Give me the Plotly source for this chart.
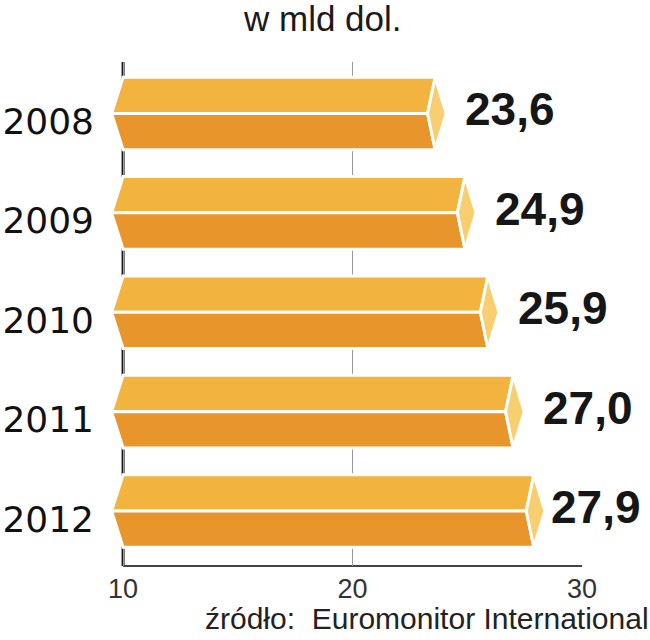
import plotly.graph_objects as go

years = ["2008", "2009", "2010", "2011", "2012"]
values = [23.6, 24.9, 25.9, 27.0, 27.9]
value_labels = ["23,6", "24,9", "25,9", "27,0", "27,9"]
x_ticks = [10, 20, 30]
title_text = "w mld dol."
source_text = "źródło:  Euromonitor International"

BASE = 10
H = 0.365      # half bar height (y units)
P = 0.5        # left point depth (x units)
C1 = 0.33      # cap inner offset
C2 = 0.48      # cap outer tip

TOP_COL = "#F2B33F"
BOT_COL = "#E8962B"
CAP_COL = "#F7CE70"

FIG_W, FIG_H = 650, 640
M_L, M_R, M_T, M_B = 107, 68, 62, 74
PLOT_W, PLOT_H = FIG_W - M_L - M_R, FIG_H - M_T - M_B
X_MIN, X_MAX = 9.3, 30
PX_PER_UNIT = PLOT_W / (X_MAX - X_MIN)
LABEL_W = 92   # approx. pixel width of a value label
LABEL_GAP = 16

fig = go.Figure()

for i, v in enumerate(values):
    polys = [
        ([BASE - P, BASE, v, v - C1, BASE - P], [i, i - H, i - H, i, i], TOP_COL),
        ([BASE - P, BASE, v, v - C1, BASE - P], [i, i + H, i + H, i, i], BOT_COL),
        ([v, v + C2, v, v - C1, v], [i - H, i, i + H, i, i - H], CAP_COL),
    ]
    for xs, ys, col in polys:
        fig.add_trace(go.Scatter(
            x=xs, y=ys, mode="lines", fill="toself", fillcolor=col,
            line=dict(color="white", width=3), hoverinfo="skip", showlegend=False,
        ))
    tip_px = M_L + (v + C2 - X_MIN) * PX_PER_UNIT
    shift = min(LABEL_GAP, FIG_W - 10 - LABEL_W - tip_px)
    fig.add_annotation(
        x=v + C2, y=i, xref="x", yref="y", text=value_labels[i],
        showarrow=False, xanchor="left", yanchor="middle", xshift=shift, yshift=4,
        font=dict(family="Liberation Sans", size=46, color="#161616", weight="bold"),
        bgcolor="white", borderpad=2,
    )

# dark base line at 10
fig.add_shape(type="line", xref="x", yref="paper", x0=BASE, x1=BASE, y0=0, y1=1,
              line=dict(color="#1a1a1a", width=3), layer="below")
# bottom axis line
fig.add_shape(type="line", xref="x", yref="paper", x0=x_ticks[0], x1=x_ticks[-1], y0=0, y1=0,
              line=dict(color="#444", width=2), layer="below")

fig.add_annotation(
    x=(322 - M_L) / PLOT_W, y=1 + (M_T - 18) / PLOT_H, xref="paper", yref="paper", text=title_text,
    showarrow=False, xanchor="center", yanchor="middle",
    font=dict(family="Liberation Sans", size=35, color="#1a1a1a"),
)
fig.add_annotation(
    x=(651 - M_L) / PLOT_W, y=-(618 - (FIG_H - M_B)) / PLOT_H, xref="paper", yref="paper",
    text=source_text, showarrow=False, xanchor="right", yanchor="middle",
    font=dict(family="Liberation Sans", size=30, color="#222"),
)

fig.update_xaxes(
    range=[X_MIN, X_MAX], tickvals=x_ticks, ticktext=[str(t) for t in x_ticks],
    showgrid=True, gridcolor="#999", gridwidth=1, zeroline=False, showline=False,
    ticks="", ticklabelstandoff=4,
    tickfont=dict(family="Liberation Sans", size=27, color="#333"),
    automargin=False,
)
fig.update_yaxes(
    range=[4.553, -0.518], tickvals=list(range(len(years))), ticktext=years,
    showgrid=False, zeroline=False, showline=False, ticks="",
    ticklabelstandoff=12, ticklabelshift=-8,
    tickfont=dict(family="DejaVu Sans", size=36, color="#111"),
    automargin=False,
)

fig.update_layout(
    width=FIG_W, height=FIG_H, margin=dict(l=M_L, r=M_R, t=M_T, b=M_B),
    paper_bgcolor="white", plot_bgcolor="white",
)

# remove the browser's default 8px body margin so the figure fills the window
fig.write_html("out.html", config={"displayModeBar": False},
               post_script="document.body.style.margin='0';")
